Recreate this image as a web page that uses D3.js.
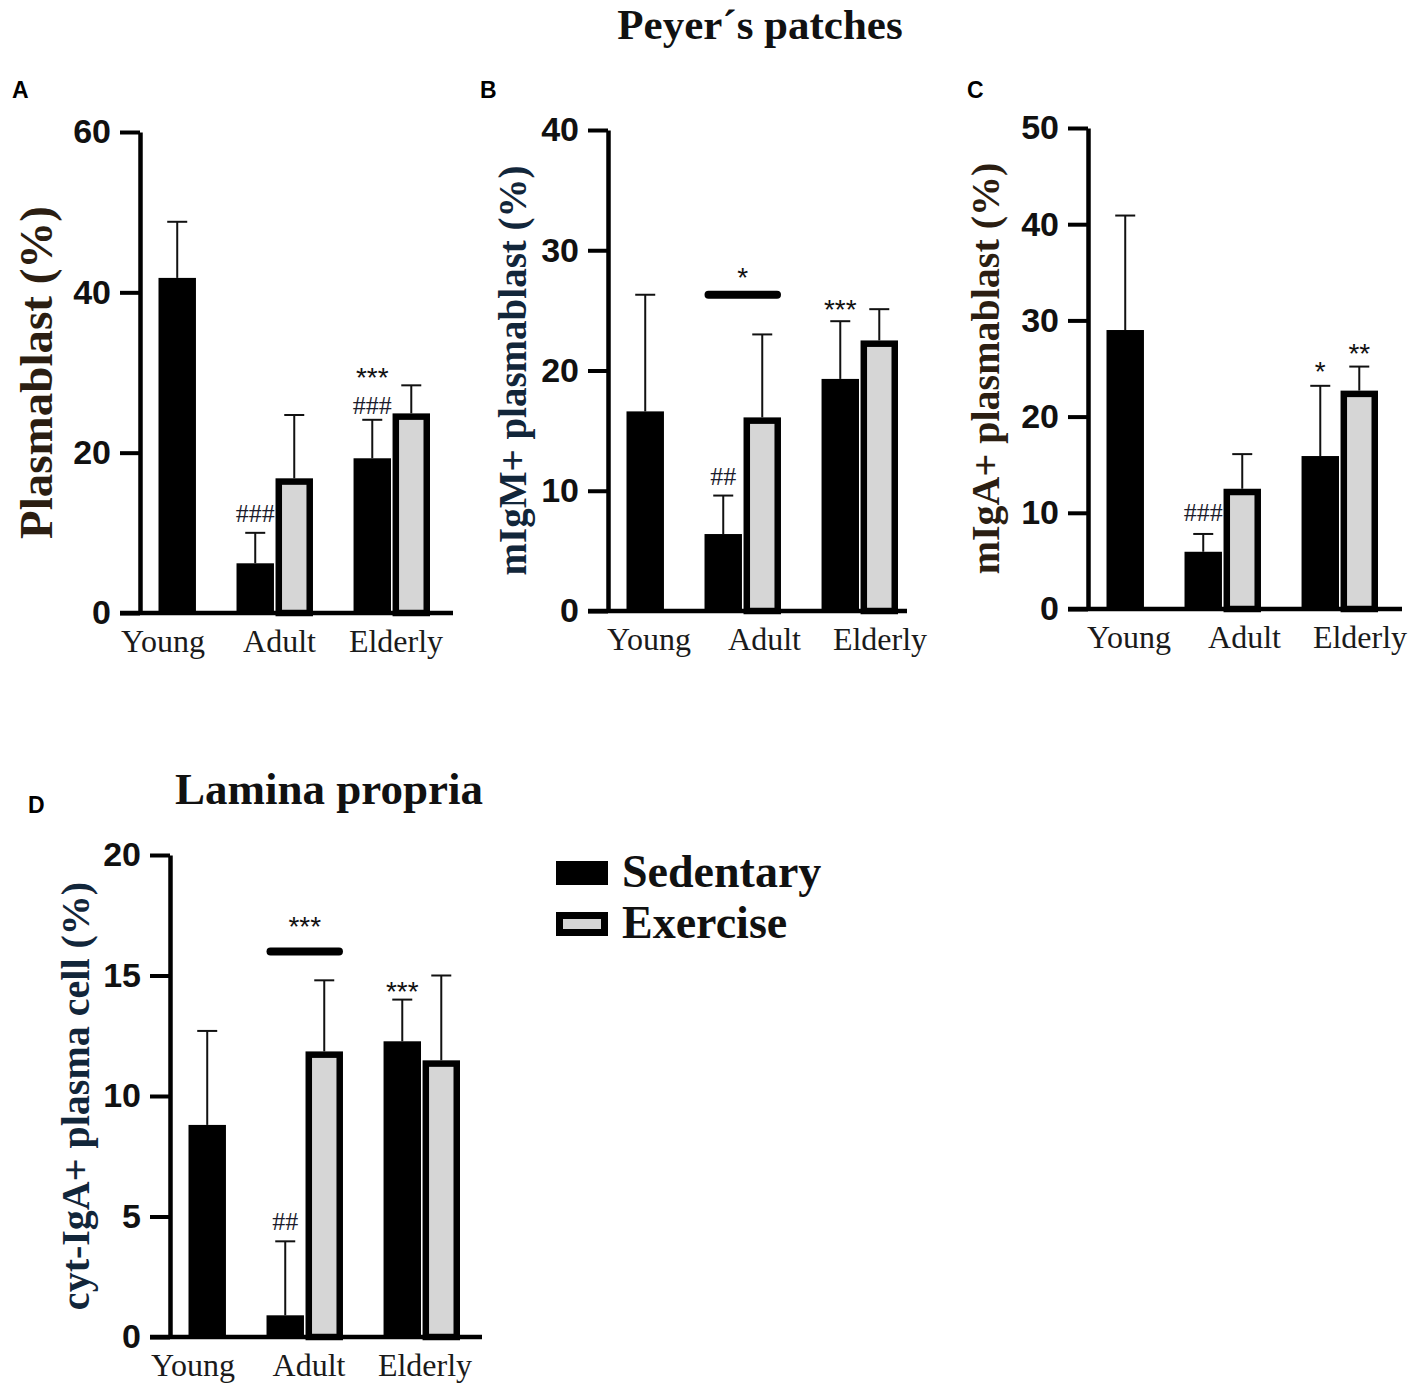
<!DOCTYPE html>
<html>
<head>
<meta charset="utf-8">
<script src="https://cdn.jsdelivr.net/npm/d3@7"></script>
<style>
  body { margin: 0; background: #fff; }
</style>
</head>
<body>
<script>
const groups = ["Young", "Adult", "Elderly"];
const series = ["Sedentary", "Exercise"];
// bar order in every panel (Young has no exercise bar)
const barKeys = [["Young", "Sedentary"], ["Adult", "Sedentary"], ["Adult", "Exercise"],
                 ["Elderly", "Sedentary"], ["Elderly", "Exercise"]];

// A - Peyer's patches, plasmablast
const plasmablastMean = [41.8, 6.2, 16.8, 19.3, 24.9];
const plasmablastTop  = [48.8, 10.0, 24.7, 24.1, 28.4];
const plasmablastTicks = [0, 20, 40, 60];

// B - mIgM+ plasmablast
const igmMean = [16.6, 6.4, 16.1, 19.3, 22.5];
const igmTop  = [26.3, 9.6, 23.0, 24.1, 25.1];
const igmTicks = [0, 10, 20, 30, 40];

// C - mIgA+ plasmablast
const igaMean = [29.0, 5.95, 12.5, 15.9, 22.7];
const igaTop  = [40.9, 7.8, 16.1, 23.2, 25.2];
const igaTicks = [0, 10, 20, 30, 40, 50];

// D - lamina propria, cyt-IgA+ plasma cell
const cytMean = [8.8, 0.9, 11.85, 12.27, 11.48];
const cytTop  = [12.7, 3.97, 14.8, 14.0, 15.0];
const cytTicks = [0, 5, 10, 15, 20];

// significance marks: bar it sits over, text, level (data units)
const notesA = [
  {group: "Adult", series: "Sedentary", text: "###", at: 12.4},
  {group: "Elderly", series: "Sedentary", text: "###", at: 25.9},
  {group: "Elderly", series: "Sedentary", text: "***", at: 30.2}
];
const notesB = [
  {group: "Adult", series: "Sedentary", text: "##", at: 11.2},
  {group: "Elderly", series: "Sedentary", text: "***", at: 25.6}
];
const notesC = [
  {group: "Adult", series: "Sedentary", text: "###", at: 10.1},
  {group: "Elderly", series: "Sedentary", text: "*", at: 25.4},
  {group: "Elderly", series: "Exercise", text: "**", at: 27.3}
];
const notesD = [
  {group: "Adult", series: "Sedentary", text: "##", at: 4.8},
  {group: "Elderly", series: "Sedentary", text: "***", at: 14.6}
];
const bracketsB = [{group: "Adult", at: 26.3, text: "*", textAt: 28.3}];
const bracketsD = [{group: "Adult", at: 16.0, text: "***", textAt: 17.3}];

const SERIF = "'Liberation Serif', 'Times New Roman', serif";
const SANS = "'Liberation Sans', Arial, sans-serif";

const svg = d3.select("body").append("svg")
  .attr("width", 1417)
  .attr("height", 1386);

const panels = [
  {letter: "A", lx: 12, ly: 98, axisX: 140, y0: 613, yTop: 132, max: 60,
   ticks: plasmablastTicks, mean: plasmablastMean, top: plasmablastTop,
   title: "Plasmablast (%)", titleX: 36, titleSize: 47, titleColor: "#2b1e12",
   labelOff: [23, 256], xEnd: 313, notes: notesA, brackets: []},
  {letter: "B", lx: 480, ly: 98, axisX: 608, y0: 611, yTop: 130, max: 40,
   ticks: igmTicks, mean: igmMean, top: igmTop,
   title: "mIgM+ plasmablast (%)", titleX: 512, titleSize: 39, titleColor: "#12263a",
   labelOff: [41, 272], xEnd: 299, notes: notesB, brackets: bracketsB},
  {letter: "C", lx: 967, ly: 98, axisX: 1088, y0: 609, yTop: 128, max: 50,
   ticks: igaTicks, mean: igaMean, top: igaTop,
   title: "mIgA+ plasmablast (%)", titleX: 985, titleSize: 40, titleColor: "#2b1e12",
   labelOff: [41, 272], xEnd: 314, notes: notesC, brackets: []},
  {letter: "D", lx: 28, ly: 813, axisX: 170, y0: 1337, yTop: 855, max: 20,
   ticks: cytTicks, mean: cytMean, top: cytTop,
   title: "cyt-IgA+ plasma cell (%)", titleX: 75, titleSize: 40, titleColor: "#12263a",
   labelOff: [23, 255], xEnd: 312, notes: notesD, brackets: bracketsD}
];

function drawPanel(p) {
  const g = svg.append("g").attr("class", "panel-" + p.letter);

  const y = d3.scaleLinear().domain([0, p.max]).range([p.y0, p.yTop]);

  // slots: Young, gap, Adult S, Adult E, gap, Elderly S, Elderly E
  const slots = ["Young|Sedentary", "gap1", "Adult|Sedentary", "Adult|Exercise",
                 "gap2", "Elderly|Sedentary", "Elderly|Exercise"];
  const x = d3.scaleBand().domain(slots)
    .range([p.axisX + 18.5, p.axisX + 290])
    .paddingInner(0.04);
  const labelX = d3.scalePoint().domain(groups)
    .range([p.axisX + p.labelOff[0], p.axisX + p.labelOff[1]]);

  const bars = barKeys.map((k, i) => ({group: k[0], series: k[1], mean: p.mean[i], top: p.top[i]}));
  const slotOf = d => d.group + "|" + d.series;
  const cx = d => x(slotOf(d)) + x.bandwidth() / 2;

  // error bars (upper only)
  const err = g.append("g").attr("stroke", "#111").attr("stroke-width", 2);
  bars.forEach(d => {
    err.append("line").attr("x1", cx(d)).attr("x2", cx(d))
      .attr("y1", y(d.mean)).attr("y2", y(d.top));
    err.append("line").attr("x1", cx(d) - 10).attr("x2", cx(d) + 10)
      .attr("y1", y(d.top)).attr("y2", y(d.top));
  });

  // bars
  const sw = 6.5;
  g.append("g").selectAll("rect")
    .data(bars)
    .join("rect")
    .attr("x", d => d.series === "Exercise" ? x(slotOf(d)) + sw / 2 : x(slotOf(d)))
    .attr("width", d => d.series === "Exercise" ? x.bandwidth() - sw : x.bandwidth())
    .attr("y", d => d.series === "Exercise" ? y(d.mean) + sw / 2 : y(d.mean))
    .attr("height", d => d.series === "Exercise" ? y(0) - y(d.mean) - sw / 2 : y(0) - y(d.mean))
    .attr("fill", d => d.series === "Exercise" ? "#d6d6d6" : "#000")
    .attr("stroke", d => d.series === "Exercise" ? "#000" : "none")
    .attr("stroke-width", sw);

  // y axis
  const axis = g.append("g")
    .attr("transform", `translate(${p.axisX},0)`)
    .call(d3.axisLeft(y).tickValues(p.ticks).tickSize(20).tickSizeOuter(0).tickPadding(9));
  axis.select(".domain").attr("stroke", "#000").attr("stroke-width", 4.5);
  axis.selectAll(".tick line").attr("stroke", "#000").attr("stroke-width", 4);
  axis.selectAll(".tick text")
    .attr("font-family", SANS).attr("font-weight", "bold")
    .attr("font-size", 34).attr("fill", "#111");

  // x axis line
  g.append("line")
    .attr("x1", p.axisX - 20).attr("x2", p.axisX + p.xEnd)
    .attr("y1", y(0)).attr("y2", y(0))
    .attr("stroke", "#000").attr("stroke-width", 4.5);

  // category labels
  g.append("g").selectAll("text")
    .data(groups)
    .join("text")
    .attr("x", d => labelX(d))
    .attr("y", y(0) + 39)
    .attr("text-anchor", "middle")
    .attr("font-family", SERIF)
    .attr("font-size", 32)
    .attr("fill", "#1a1a1a")
    .text(d => d);

  // y title
  g.append("text")
    .attr("transform", `translate(${p.titleX},${(p.y0 + p.yTop) / 2}) rotate(-90)`)
    .attr("text-anchor", "middle")
    .attr("dominant-baseline", "central")
    .attr("font-family", SERIF)
    .attr("font-weight", "bold")
    .attr("font-size", p.titleSize)
    .attr("fill", p.titleColor)
    .text(p.title);

  // panel letter
  g.append("text")
    .attr("x", p.lx).attr("y", p.ly)
    .attr("font-family", SANS).attr("font-weight", "bold")
    .attr("font-size", 23).attr("fill", "#000")
    .text(p.letter);

  // significance marks
  const mark = (xc, level, text) => {
    const star = text[0] === "*";
    const fs = star ? 28 : 26;
    g.append("text")
      .attr("x", xc)
      .attr("y", y(level) + (star ? 0.58 : 0.34) * fs)
      .attr("text-anchor", "middle")
      .attr("font-family", star ? SANS : SERIF)
      .attr("font-size", fs)
      .attr("fill", star ? "#111" : "#1c1c2c")
      .text(text);
  };
  p.notes.forEach(n => mark(cx(n), n.at, n.text));

  p.brackets.forEach(b => {
    const x1 = x(b.group + "|Sedentary");
    const x2 = x(b.group + "|Exercise") + x.bandwidth();
    g.append("line")
      .attr("x1", x1 + 4).attr("x2", x2 - 4)
      .attr("y1", y(b.at)).attr("y2", y(b.at))
      .attr("stroke", "#000").attr("stroke-width", 8)
      .attr("stroke-linecap", "round");
    mark((x1 + x2) / 2, b.textAt, b.text);
  });
}

panels.forEach(drawPanel);

// section titles
svg.append("text")
  .attr("x", 760).attr("y", 39)
  .attr("text-anchor", "middle")
  .attr("font-family", SERIF).attr("font-weight", "bold")
  .attr("font-size", 43).attr("fill", "#111")
  .text("Peyer\u00b4s patches");

svg.append("text")
  .attr("x", 329).attr("y", 804)
  .attr("text-anchor", "middle")
  .attr("font-family", SERIF).attr("font-weight", "bold")
  .attr("font-size", 45).attr("fill", "#111")
  .text("Lamina propria");

// legend
const legend = svg.append("g").attr("transform", "translate(556,861)");
const legendY = d3.scalePoint().domain(series).range([0, 51]);
legend.selectAll("rect")
  .data(series)
  .join("rect")
  .attr("x", d => d === "Exercise" ? 3.5 : 0)
  .attr("y", d => legendY(d) + (d === "Exercise" ? 3.5 : 0))
  .attr("width", d => d === "Exercise" ? 45 : 52)
  .attr("height", d => d === "Exercise" ? 17 : 24)
  .attr("fill", d => d === "Exercise" ? "#d6d6d6" : "#000")
  .attr("stroke", d => d === "Exercise" ? "#000" : "none")
  .attr("stroke-width", 7);
legend.selectAll("text")
  .data(series)
  .join("text")
  .attr("x", 66)
  .attr("y", d => legendY(d) + 26)
  .attr("font-family", SERIF).attr("font-weight", "bold")
  .attr("font-size", 46).attr("fill", "#111")
  .text(d => d);
</script>
</body>
</html>
